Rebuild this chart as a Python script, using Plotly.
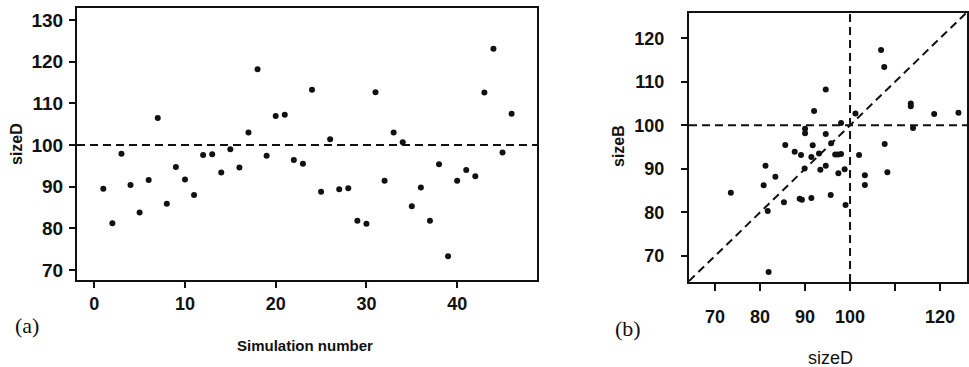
import plotly.graph_objects as go

# ---- data (a): sizeD by simulation number ----
sim_number = list(range(1, 47))
sizeD_a = [89.5, 81.2, 97.9, 90.4, 83.8, 91.6, 106.5, 85.9, 94.7, 91.7,
           88.0, 97.6, 97.8, 93.4, 99.0, 94.6, 103.0, 118.2, 97.4, 107.0,
           107.3, 96.4, 95.5, 113.3, 88.8, 101.4, 89.4, 89.6, 81.8, 81.1,
           112.7, 91.4, 103.0, 100.7, 85.3, 89.8, 81.8, 95.4, 73.3, 91.4,
           94.0, 92.5, 112.6, 123.1, 98.2, 107.5]

# ---- data (b): sizeD vs sizeB ----
sizeD_b = [73.5, 81.2, 80.8, 83.4, 81.7, 81.9, 85.3, 85.6, 87.7, 89.1,
           88.8, 89.3, 91.4, 89.9, 90.0, 90.0, 92.0, 91.7, 91.4, 93.1,
           93.4, 94.6, 94.6, 94.6, 95.8, 95.7, 96.7, 97.3, 98.0, 97.4,
           98.8, 99.0, 98.0, 101.2, 102.0, 103.3, 103.3, 106.9, 107.6, 107.7,
           108.3, 113.5, 113.5, 114.0, 118.7, 124.1]
sizeB_b = [84.5, 90.7, 86.2, 88.2, 80.3, 66.3, 82.3, 95.5, 93.9, 93.2,
           83.1, 82.9, 83.3, 90.1, 99.2, 98.2, 103.3, 95.4, 92.7, 93.5,
           89.8, 108.2, 98.0, 90.7, 95.9, 84.0, 93.3, 93.3, 93.4, 89.0,
           89.9, 81.7, 100.5, 102.7, 93.2, 88.5, 86.3, 117.3, 113.4, 95.7,
           89.2, 105.0, 104.4, 99.4, 102.6, 102.9]

ref_value = 100
a_xticks = [0, 10, 20, 30, 40]
a_yticks = [70, 80, 90, 100, 110, 120, 130]
b_ticks = [70, 80, 90, 100, 110, 120]
b_xticktext = ["70", "80", "90", "100", "", "120"]

W, H = 969, 367
FONT = "Liberation Sans, Arial, Helvetica, sans-serif"
BLACK = "#111111"
b_xrange = [64.2, 126.0]
b_yrange = [64.0, 125.8]

def bold(vals):
    return ["<b>%s</b>" % v if str(v) else "" for v in vals]

fig = go.Figure()
fig.add_trace(go.Scatter(x=sim_number, y=sizeD_a, mode="markers",
                         marker=dict(color=BLACK, size=6), xaxis="x", yaxis="y",
                         showlegend=False))
fig.add_trace(go.Scatter(x=b_xrange, y=b_xrange, mode="lines",
                         line=dict(color=BLACK, width=2, dash="8px,5px"),
                         xaxis="x2", yaxis="y2", showlegend=False))
fig.add_trace(go.Scatter(x=sizeD_b, y=sizeB_b, mode="markers",
                         marker=dict(color=BLACK, size=6), xaxis="x2", yaxis="y2",
                         showlegend=False))

def px_x(p):
    return p / W

def px_y(p):
    return 1 - p / H

axis_common = dict(showline=True, linecolor=BLACK, linewidth=2, mirror=True,
                   ticks="outside", tickcolor=BLACK, tickwidth=1.5,
                   showgrid=False, zeroline=False)

fig.update_layout(
    width=W, height=H, margin=dict(l=0, r=0, t=0, b=0),
    paper_bgcolor="white", plot_bgcolor="white", showlegend=False,
    xaxis=dict(domain=[px_x(77), px_x(537)], range=[-1.9, 48.8],
               tickvals=a_xticks, ticktext=bold(a_xticks), ticklen=6, ticklabelstandoff=0,
               tickfont=dict(family=FONT, size=18, color=BLACK),
               anchor="y", **axis_common),
    yaxis=dict(domain=[px_y(280), px_y(8)], range=[67.6, 132.9],
               tickvals=a_yticks, ticktext=bold(a_yticks), ticklen=6, ticklabelstandoff=2,
               tickfont=dict(family=FONT, size=19, color=BLACK),
               anchor="x", **axis_common),
    xaxis2=dict(domain=[px_x(689), px_x(967)], range=b_xrange,
                tickvals=b_ticks, ticktext=bold(b_xticktext), ticklen=7, ticklabelstandoff=10,
                tickfont=dict(family=FONT, size=18, color=BLACK),
                anchor="y2", **axis_common),
    yaxis2=dict(domain=[px_y(282), px_y(13)], range=b_yrange,
                tickvals=b_ticks, ticktext=bold(b_ticks), ticklen=6, ticklabelstandoff=13,
                tickfont=dict(family=FONT, size=18, color=BLACK),
                anchor="x2", **axis_common),
)

dash = dict(color=BLACK, width=2, dash="8px,5px")
fig.add_shape(type="line", xref="x domain", yref="y", x0=0, x1=1,
              y0=ref_value, y1=ref_value, line=dash)
fig.add_shape(type="line", xref="x2 domain", yref="y2", x0=0, x1=1,
              y0=ref_value, y1=ref_value, line=dash)
fig.add_shape(type="line", xref="x2", yref="y2 domain", x0=ref_value, x1=ref_value,
              y0=0, y1=1, line=dash)

def ann(text, x, y, size, weight="bold", angle=0, family=FONT):
    fig.add_annotation(text=text, x=px_x(x), y=px_y(y), xref="paper", yref="paper",
                       showarrow=False, textangle=angle, xanchor="center", yanchor="middle",
                       font=dict(family=family, size=size, color=BLACK, weight=weight))

ann("sizeD", 16, 144, 16, angle=-90)
ann("Simulation number", 305, 345, 15)
ann("sizeB", 618, 146, 16, angle=-90)
ann("sizeD", 830, 358, 18, weight="normal")
ann("(a)", 27, 325, 22, weight="normal", family="Liberation Serif, DejaVu Serif, serif")
ann("(b)", 628, 328, 22, weight="normal", family="Liberation Serif, DejaVu Serif, serif")

fig.write_html("out.html", config={"displayModeBar": False},
               post_script="document.body.style.margin='0';document.body.style.padding='0';"
                           "document.body.style.overflow='hidden';")
